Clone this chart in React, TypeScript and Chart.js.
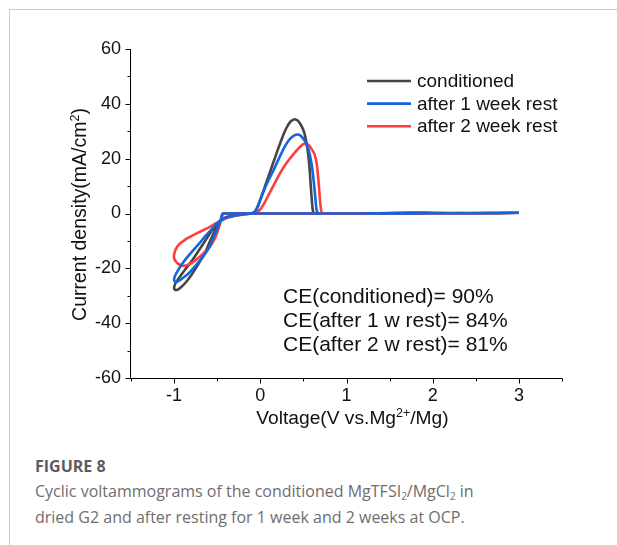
import React, { useEffect, useRef } from 'react';
import { Chart, registerables } from 'chart.js';

Chart.register(...registerables);

// ---------------- data ----------------
const xTicks = [-1, 0, 1, 2, 3];
const xMinorTicks = [-1.5, -0.5, 0.5, 1.5, 2.5, 3.5];
const yTicks = [-60, -40, -20, 0, 20, 40, 60];
const yMinorTicks = [-50, -30, -10, 10, 30, 50];

const seriesNames = ['conditioned', 'after 1 week rest', 'after 2 week rest'];
const seriesColors = ['#454545', '#1166e0', '#ff3d3d'];
const ceLabels = ['CE(conditioned)= 90%', 'CE(after 1 w rest)= 84%', 'CE(after 2 w rest)= 81%'];

// conditioned (black)
const condV = [
  3.0, 2.5, 2.0, 1.5, 1.0, 0.5, 0.0, -0.3, -0.42, -0.44,
  -0.46, -0.5, -0.56, -0.63, -0.71, -0.79, -0.86, -0.92, -0.96, -0.99, -1.0,
  -0.99, -0.95, -0.88, -0.8, -0.72, -0.65, -0.58, -0.52, -0.47, -0.42, -0.35, -0.27, -0.18, -0.1, -0.06,
  -0.03, 0.0, 0.05, 0.1, 0.15, 0.2, 0.25, 0.3, 0.35, 0.4, 0.44, 0.48, 0.51, 0.54, 0.56, 0.575, 0.59, 0.6, 0.61, 0.625,
  0.7, 1.0, 1.5, 1.8, 2.0, 2.5, 3.0,
];
const condI = [
  0.2, 0.1, 0.1, 0.0, 0.0, 0.0, 0.0, 0.0, 0.0, -0.2,
  -2.5, -4.5, -8.5, -13.5, -18, -22, -25, -26.9, -27.8, -27.8, -27.3,
  -25.8, -23.8, -20.8, -17.5, -13.8, -10.5, -7, -4.3, -2.6, -1.6, -0.9, -0.5, -0.2, 0.1, 0.8,
  2.5, 5, 9.5, 14, 18.5, 23, 27.3, 31, 33.5, 34.4, 33.7, 31.8, 29.5, 25, 20.5, 15, 8, 4, 1, 0.1,
  0.0, 0.0, 0.1, 0.3, 0.2, 0.1, 0.3,
];

// after 1 week rest (blue)
const week1V = [
  3.0, 2.5, 2.0, 1.5, 1.0, 0.5, 0.0, -0.3, -0.42, -0.44,
  -0.46, -0.5, -0.55, -0.59, -0.67, -0.75, -0.83, -0.91, -0.96, -0.99, -1.0,
  -0.99, -0.95, -0.91, -0.83, -0.71, -0.63, -0.56, -0.5, -0.45, -0.4, -0.33, -0.25, -0.17, -0.1, -0.06,
  -0.03, 0.0, 0.05, 0.1, 0.15, 0.2, 0.25, 0.3, 0.35, 0.4, 0.44, 0.48, 0.52, 0.56, 0.59, 0.61, 0.63, 0.645, 0.655, 0.67,
  0.8, 1.2, 1.8, 2.2, 3.0,
];
const week1I = [
  0.2, 0.1, 0.1, 0.0, 0.0, 0.0, 0.0, 0.0, 0.0, -0.2,
  -2.5, -5.5, -9.3, -12.3, -16, -19, -21.8, -23.8, -24.8, -24.8, -24.2,
  -22.8, -20.5, -18.5, -15.3, -11, -8, -5.6, -3.6, -2.4, -1.6, -0.9, -0.5, -0.2, 0.1, 0.8,
  2.5, 5, 9, 12.5, 15.5, 19, 22.3, 25.3, 27.4, 28.6, 28.8, 28, 26.3, 23.3, 19, 14.5, 8.5, 3.5, 1, 0.1,
  0.0, 0.0, 0.3, 0.1, 0.3,
];

// after 2 week rest (red)
const week2V = [
  3.0, 2.5, 2.0, 1.5, 1.0, 0.5, 0.0, -0.3, -0.42, -0.44,
  -0.46, -0.49, -0.53, -0.59, -0.67, -0.75, -0.83, -0.89, -0.94, -0.98, -1.0,
  -1.0, -0.98, -0.94, -0.87, -0.79, -0.71, -0.63, -0.56, -0.5, -0.44, -0.38, -0.3, -0.21, -0.12, -0.05,
  0.0, 0.05, 0.1, 0.15, 0.2, 0.25, 0.3, 0.35, 0.4, 0.45, 0.5, 0.53, 0.56, 0.6, 0.63, 0.655, 0.675, 0.69, 0.7, 0.71, 0.73,
  0.9, 1.3, 1.8, 2.2, 3.0,
];
const week2I = [
  0.2, 0.1, 0.1, 0.0, 0.0, 0.0, 0.0, 0.0, 0.0, -0.2,
  -3, -6, -9.3, -12.3, -14.8, -17, -18.6, -19.1, -18.6, -17.5, -16.3,
  -15, -13, -11.2, -9.5, -8.1, -6.8, -5.6, -4.4, -3.3, -2.4, -1.6, -0.9, -0.4, -0.1, 0.3,
  1.5, 4, 7, 10, 13, 15.8, 18.2, 20.3, 22.2, 24, 25.3, 25.6, 25, 23.3, 21.5, 18, 12, 6, 2.5, 0.6, 0.1,
  0.0, 0.0, 0.3, 0.1, 0.3,
];

const FONT = '"Liberation Sans", Arial, sans-serif';

type Seg = { t: string; sup?: boolean };

function drawSegs(ctx: CanvasRenderingContext2D, segs: Seg[], x: number, y: number, size: number, supSize: number, supRaise: number) {
  const widths = segs.map((s) => {
    ctx.font = `${s.sup ? supSize : size}px ${FONT}`;
    return ctx.measureText(s.t).width;
  });
  const total = widths.reduce((a, b) => a + b, 0);
  let cx = x - total / 2;
  ctx.textAlign = 'left';
  ctx.textBaseline = 'alphabetic';
  segs.forEach((s, i) => {
    ctx.font = `${s.sup ? supSize : size}px ${FONT}`;
    ctx.fillText(s.t, cx, s.sup ? y - supRaise : y);
    cx += widths[i];
  });
}

const decorPlugin = {
  id: 'decor',
  afterDraw(chart: any) {
    const { ctx, chartArea } = chart;
    const xs = chart.scales.x;
    const ys = chart.scales.y;
    const L = chartArea.left - 0.5;
    const B = chartArea.bottom + 0.5;
    ctx.save();
    ctx.strokeStyle = '#000';
    ctx.lineWidth = 1;
    ctx.beginPath();
    // axis lines
    ctx.moveTo(L, chartArea.top);
    ctx.lineTo(L, B);
    ctx.moveTo(L - 0.5, B);
    ctx.lineTo(chartArea.right, B);
    // x ticks
    xTicks.forEach((v) => {
      const p = Math.round(xs.getPixelForValue(v)) + 0.5;
      ctx.moveTo(p, B);
      ctx.lineTo(p, B + 5);
    });
    xMinorTicks.forEach((v) => {
      const p = Math.round(xs.getPixelForValue(v)) + 0.5;
      ctx.moveTo(p, B);
      ctx.lineTo(p, B + 3);
    });
    // y ticks
    yTicks.forEach((v) => {
      const p = Math.round(ys.getPixelForValue(v)) + 0.5;
      ctx.moveTo(L, p);
      ctx.lineTo(L - 5, p);
    });
    yMinorTicks.forEach((v) => {
      const p = Math.round(ys.getPixelForValue(v)) + 0.5;
      ctx.moveTo(L, p);
      ctx.lineTo(L - 3, p);
    });
    ctx.stroke();

    ctx.fillStyle = '#111';
    // x title
    drawSegs(ctx, [{ t: 'Voltage(V vs.Mg' }, { t: '2+', sup: true }, { t: '/Mg)' }], (chartArea.left + chartArea.right) / 2 + 6, 414, 19.2, 12.5, 7);
    // y title
    ctx.save();
    ctx.translate(76, (chartArea.top + chartArea.bottom) / 2 + 1);
    ctx.rotate(-Math.PI / 2);
    drawSegs(ctx, [{ t: 'Current density(mA/cm' }, { t: '2', sup: true }, { t: ')' }], 0, 0, 19.5, 12.5, 7);
    ctx.restore();

    // legend
    ctx.font = `19px ${FONT}`;
    ctx.textAlign = 'left';
    ctx.textBaseline = 'middle';
    seriesNames.forEach((name, i) => {
      const yy = 71 + i * 22.6;
      ctx.strokeStyle = seriesColors[i];
      ctx.lineWidth = 2.6;
      ctx.beginPath();
      ctx.moveTo(357, yy);
      ctx.lineTo(401, yy);
      ctx.stroke();
      ctx.fillStyle = '#111';
      ctx.fillText(name, 407, yy + 1);
    });

    // CE annotations
    ctx.font = `21px ${FONT}`;
    ceLabels.forEach((t, i) => {
      ctx.fillText(t, 273, 287 + i * 24);
    });
    ctx.restore();
  },
};

export default function App() {
  const ref = useRef<HTMLCanvasElement | null>(null);

  useEffect(() => {
    if (!ref.current) return;
    const mk = (vs: number[], is: number[]) => vs.map((v, i) => ({ x: v, y: is[i] }));
    const chart = new Chart(ref.current, {
      type: 'scatter',
      data: {
        datasets: [
          { label: seriesNames[0], data: mk(condV, condI), borderColor: seriesColors[0], order: 2 },
          { label: seriesNames[1], data: mk(week1V, week1I), borderColor: seriesColors[1], order: 0 },
          { label: seriesNames[2], data: mk(week2V, week2I), borderColor: seriesColors[2], order: 1 },
        ].map((d) => ({
          ...d,
          showLine: true,
          borderWidth: 2.6,
          pointRadius: 0,
          pointHoverRadius: 0,
          tension: 0.15,
          fill: false,
        })),
      },
      options: {
        animation: false,
        responsive: false,
        devicePixelRatio: 1,
        events: [],
        layout: { padding: { left: 0, top: 39, right: 48, bottom: 0 } },
        plugins: { legend: { display: false }, tooltip: { enabled: false }, title: { display: false } },
        scales: {
          x: {
            type: 'linear',
            min: -1.5,
            max: 3.5,
            grid: { display: false, drawTicks: false, tickLength: 0 },
            border: { display: false },
            ticks: { padding: 7, color: '#111', font: { family: FONT, size: 18 } },
            afterBuildTicks: (s: any) => { s.ticks = xTicks.map((v) => ({ value: v })); },
            afterFit: (s: any) => { s.height = 72; },
          },
          y: {
            type: 'linear',
            min: -60,
            max: 60,
            grid: { display: false, drawTicks: false, tickLength: 0 },
            border: { display: false },
            ticks: { padding: 10, color: '#111', font: { family: FONT, size: 18 } },
            afterBuildTicks: (s: any) => { s.ticks = yTicks.map((v) => ({ value: v })); },
            afterFit: (s: any) => { s.width = 121; },
          },
        },
      } as any,
      plugins: [decorPlugin],
    });
    return () => chart.destroy();
  }, []);

  const subStyle = { fontSize: 10, verticalAlign: '-3px', lineHeight: 0 } as const;

  return (
    <div style={{ position: 'fixed', left: 0, top: 0, width: 617, height: 545, background: '#fff', overflow: 'hidden' }}>
      <div style={{ position: 'absolute', left: 9, top: 9, right: 0, bottom: 0, borderTop: '1px solid #cccccc', borderLeft: '1px solid #cccccc' }} />
      <canvas ref={ref} width={600} height={440} style={{ position: 'absolute', left: 10, top: 10, width: 600, height: 440 }} />
      <div style={{ position: 'absolute', left: 35, top: 453, fontFamily: '"Open Sans", sans-serif', color: '#6e6e6e', fontSize: 16, lineHeight: '25.5px', whiteSpace: 'nowrap' }}>
        <div style={{ fontWeight: 700, color: '#5c5c5c', lineHeight: '26px' }}>FIGURE 8</div>
        <div>Cyclic voltammograms of the conditioned MgTFSI<sub style={subStyle}>2</sub>/MgCl<sub style={subStyle}>2</sub> in</div>
        <div>dried G2 and after resting for 1 week and 2 weeks at OCP.</div>
      </div>
    </div>
  );
}
